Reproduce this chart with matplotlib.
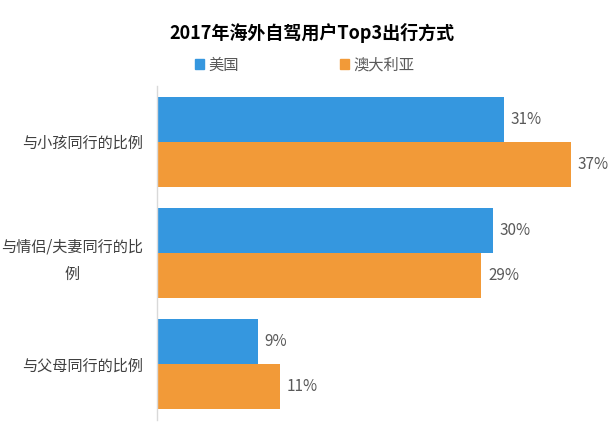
import matplotlib
matplotlib.use("Agg")
import matplotlib.pyplot as plt
from matplotlib.patches import Patch
import numpy as np

plt.rcParams['font.family'] = ['Noto Sans CJK SC', 'DejaVu Sans']

title = "2017年海外自驾用户Top3出行方式"
categories = ["与小孩同行的比例", "与情侣/夫妻同行的比\n例", "与父母同行的比例"]
series_names = ["美国", "澳大利亚"]
usa = [31, 30, 9]
aus = [37, 29, 11]
colors = ["#3597DF", "#F29A38"]

fig = plt.figure(figsize=(6.15, 4.23), dpi=100)
ax = fig.add_axes([157/615, 1-420/423, (610-157)/615, (420-86)/423])

y = np.arange(len(categories))
h = 0.404
b1 = ax.barh(y - h/2, usa, height=h, color=colors[0], label=series_names[0])
b2 = ax.barh(y + h/2, aus, height=h, color=colors[1], label=series_names[1])

for bars, vals in ((b1, usa), (b2, aus)):
    for rect, v in zip(bars, vals):
        ax.annotate(f"{v}%", (rect.get_width(), rect.get_y() + rect.get_height()/2),
                    xytext=(7, 0), textcoords="offset pixels", ha="left", va="center",
                    fontsize=11, color="#595959")

ax.set_ylim(2.5, -0.5)
ax.set_xlim(0, 40.5)
ax.set_yticks(y)
ax.set_yticklabels(categories, fontsize=10.9, color="#404040", multialignment="center", linespacing=1.8)
ax.tick_params(axis="y", length=0, pad=10)
ax.set_xticks([])
for s in ["top", "right", "bottom"]:
    ax.spines[s].set_visible(False)
ax.spines["left"].set_color("#D9D9D9")
ax.spines["left"].set_linewidth(1)

fig.text(312/615, 1-33/423, title, ha="center", va="center", fontsize=13, fontweight="bold", color="#000000")

handles = [Patch(color=colors[0]), Patch(color=colors[1])]
fig.legend(handles, series_names, loc="center left", bbox_to_anchor=(195/615, 1-65/423),
           ncol=2, frameon=False, handlelength=0.6, handleheight=0.6, handletextpad=0.3,
           columnspacing=6.6, prop={"size": 11}, labelcolor="#595959", borderaxespad=0, borderpad=0)

fig.savefig("out.png", dpi=100)
